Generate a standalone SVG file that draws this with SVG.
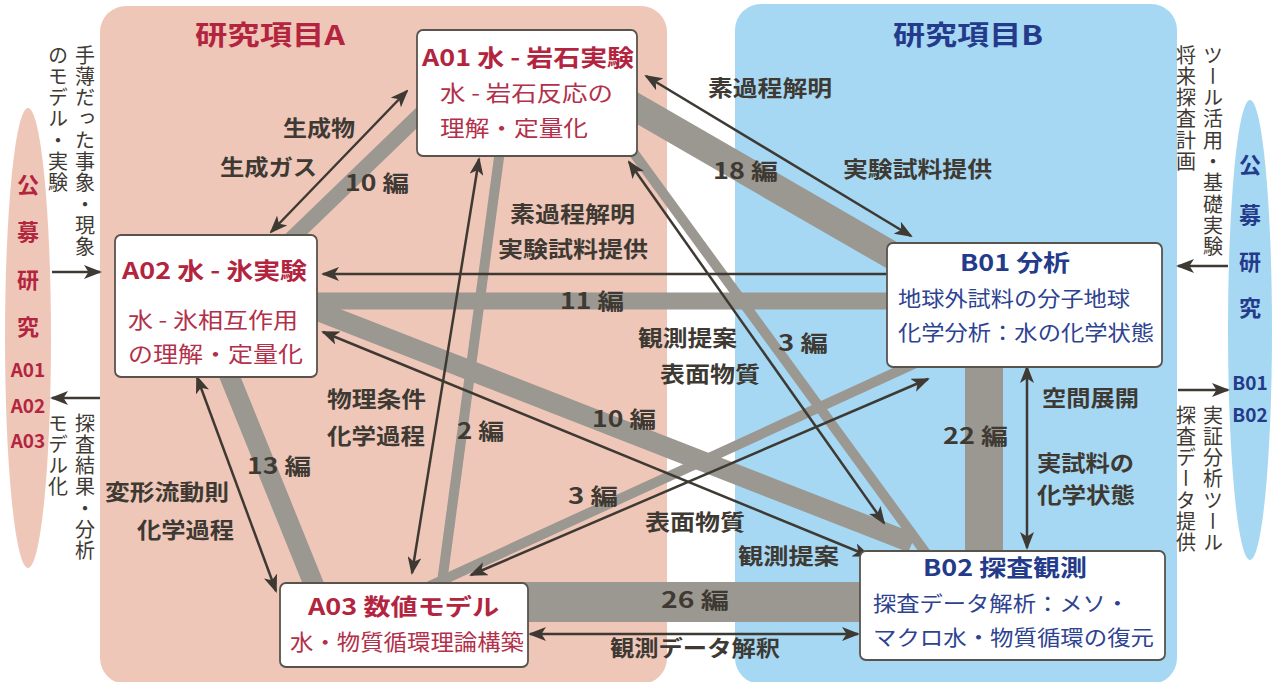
<svg xmlns="http://www.w3.org/2000/svg" width="1279" height="682" viewBox="0 0 1279 682">
<defs>
<style>
text{font-family:'Noto Sans CJK JP','Noto Sans',sans-serif;}
.lbl{font-size:22px;font-weight:700;fill:#3e3a33;}
.band{stroke:#9b9791;fill:none;stroke-linecap:butt;}
.arr{stroke:#3e3a33;stroke-width:2.5;fill:none;marker-end:url(#ah);}
.arr2{stroke:#3e3a33;stroke-width:2.5;fill:none;marker-end:url(#ah);marker-start:url(#ah);}
.box{fill:#fff;stroke:#58534d;stroke-width:1.8;}
.ta{font-size:23px;font-weight:700;fill:#b3253f;}
.sa{font-size:22px;fill:#b3304a;}
.tb{font-size:23px;font-weight:700;fill:#243a8a;}
.sb{font-size:21px;fill:#2d4390;}
.vt{font-size:20px;fill:#3e3a33;writing-mode:vertical-rl;letter-spacing:1.3px;}
.er{font-size:22px;font-weight:700;fill:#b3253f;text-anchor:middle;}
.eb{font-size:22px;font-weight:700;fill:#243a8a;text-anchor:middle;}
.er2{font-size:19px;font-weight:700;fill:#b3253f;text-anchor:middle;}
.eb2{font-size:19px;font-weight:700;fill:#243a8a;text-anchor:middle;}
</style>
<marker id="ah" viewBox="0 0 18 14" refX="16" refY="7" markerWidth="18" markerHeight="14" markerUnits="userSpaceOnUse" orient="auto-start-reverse">
<path d="M0,0 L18,7 L0,14 L4.5,7 Z" fill="#3e3a33"/>
</marker>
</defs>
<rect width="1279" height="682" fill="#fff"/>

<g id="panels">
<rect x="100" y="6" width="567" height="678" rx="26" fill="#efc7b9"/>
<rect x="735" y="4" width="442" height="680" rx="26" fill="#a6d8f3"/>
<text x="195" y="45" font-size="27" font-weight="700" fill="#b3253f" textLength="150" lengthAdjust="spacingAndGlyphs">研究項目A</text>
<text x="893" y="45" font-size="27" font-weight="700" fill="#243a8a" textLength="150" lengthAdjust="spacingAndGlyphs">研究項目B</text>
</g>

<g id="koubo-A">
<ellipse cx="28" cy="338" rx="23" ry="230" fill="#efc7b9"/>
<text class="er" x="28" y="193">公</text>
<text class="er" x="28" y="240">募</text>
<text class="er" x="28" y="288">研</text>
<text class="er" x="28" y="335">究</text>
<text class="er2" x="28" y="377">A01</text>
<text class="er2" x="28" y="413">A02</text>
<text class="er2" x="28" y="448">A03</text>
<text class="vt" x="85" y="45">手薄だった事象・現象</text>
<text class="vt" x="58" y="45">のモデル・実験</text>
<text class="vt" x="85" y="413">探査結果・分析</text>
<text class="vt" x="58" y="413">モデル化</text>
</g>

<g id="koubo-B">
<ellipse cx="1250" cy="330" rx="22" ry="230" fill="#a6d8f3"/>
<text class="eb" x="1250" y="173">公</text>
<text class="eb" x="1250" y="223">募</text>
<text class="eb" x="1250" y="270">研</text>
<text class="eb" x="1250" y="316">究</text>
<text class="eb2" x="1250" y="390">B01</text>
<text class="eb2" x="1250" y="422">B02</text>
<text class="vt" x="1213" y="45">ツール活用・基礎実験</text>
<text class="vt" x="1186" y="45">将来探査計画</text>
<text class="vt" x="1213" y="405">実証分析ツール</text>
<text class="vt" x="1186" y="405">探査データ提供</text>
</g>

<g id="connectors">
<line class="band" x1="430" y1="105" x2="285" y2="245" stroke-width="15"/>
<line class="band" x1="630" y1="104" x2="895" y2="257" stroke-width="28"/>
<line class="band" x1="628" y1="145" x2="928" y2="556" stroke-width="10"/>
<line class="band" x1="500" y1="150" x2="441" y2="590" stroke-width="10"/>
<line class="band" x1="310" y1="301" x2="895" y2="301" stroke-width="17"/>
<line class="band" x1="310" y1="308" x2="912" y2="543" stroke-width="20"/>
<line class="band" x1="227" y1="370" x2="316" y2="590" stroke-width="20"/>
<line class="band" x1="421" y1="590" x2="918" y2="362" stroke-width="10"/>
<line class="band" x1="520" y1="602" x2="870" y2="602" stroke-width="40"/>
<line class="band" x1="984" y1="360" x2="984" y2="556" stroke-width="38"/>

<line class="arr2" x1="407" y1="91" x2="271" y2="232"/>
<line class="arr2" x1="646" y1="76" x2="911" y2="236"/>
<line class="arr2" x1="629" y1="162" x2="884" y2="523"/>
<line class="arr2" x1="479" y1="159" x2="412" y2="573"/>
<line class="arr" x1="887" y1="274" x2="323" y2="274"/>
<line class="arr2" x1="323" y1="332" x2="869" y2="556"/>
<line class="arr2" x1="197" y1="377" x2="276" y2="591"/>
<line class="arr2" x1="471" y1="575" x2="928" y2="379"/>
<line class="arr2" x1="1027" y1="367" x2="1027" y2="548"/>
<line class="arr2" x1="530" y1="634" x2="858" y2="634"/>
<line class="arr" x1="52" y1="272" x2="100" y2="272"/>
<line class="arr" x1="100" y1="398" x2="52" y2="398"/>
<line class="arr" x1="1228" y1="266" x2="1178" y2="266"/>
<line class="arr" x1="1178" y1="390" x2="1228" y2="390"/>
</g>

<g id="labels">
<text class="lbl" x="283" y="136" textLength="72" lengthAdjust="spacingAndGlyphs">生成物</text>
<text class="lbl" x="220" y="175" textLength="97" lengthAdjust="spacingAndGlyphs">生成ガス</text>
<text class="lbl" x="345" y="191" textLength="64" lengthAdjust="spacingAndGlyphs">10 編</text>
<text class="lbl" x="708" y="96" textLength="124" lengthAdjust="spacingAndGlyphs">素過程解明</text>
<text class="lbl" x="713" y="179" textLength="65" lengthAdjust="spacingAndGlyphs">18 編</text>
<text class="lbl" x="843" y="177" textLength="149" lengthAdjust="spacingAndGlyphs">実験試料提供</text>
<text class="lbl" x="510" y="222" textLength="125" lengthAdjust="spacingAndGlyphs">素過程解明</text>
<text class="lbl" x="498" y="257" textLength="150" lengthAdjust="spacingAndGlyphs">実験試料提供</text>
<text class="lbl" x="560" y="309" textLength="64" lengthAdjust="spacingAndGlyphs">11 編</text>
<text class="lbl" x="638" y="346" textLength="99" lengthAdjust="spacingAndGlyphs">観測提案</text>
<text class="lbl" x="660" y="382" textLength="100" lengthAdjust="spacingAndGlyphs">表面物質</text>
<text class="lbl" x="778" y="351" textLength="50" lengthAdjust="spacingAndGlyphs">3 編</text>
<text class="lbl" x="592" y="427" textLength="64" lengthAdjust="spacingAndGlyphs">10 編</text>
<text class="lbl" x="568" y="504" textLength="50" lengthAdjust="spacingAndGlyphs">3 編</text>
<text class="lbl" x="645" y="530" textLength="100" lengthAdjust="spacingAndGlyphs">表面物質</text>
<text class="lbl" x="738" y="564" textLength="101" lengthAdjust="spacingAndGlyphs">観測提案</text>
<text class="lbl" x="327" y="407" textLength="99" lengthAdjust="spacingAndGlyphs">物理条件</text>
<text class="lbl" x="327" y="444" textLength="98" lengthAdjust="spacingAndGlyphs">化学過程</text>
<text class="lbl" x="457" y="439" textLength="47" lengthAdjust="spacingAndGlyphs">2 編</text>
<text class="lbl" x="247" y="474" textLength="64" lengthAdjust="spacingAndGlyphs">13 編</text>
<text class="lbl" x="105" y="500" textLength="124" lengthAdjust="spacingAndGlyphs">変形流動則</text>
<text class="lbl" x="137" y="538" textLength="97" lengthAdjust="spacingAndGlyphs">化学過程</text>
<text class="lbl" x="1042" y="406" textLength="97" lengthAdjust="spacingAndGlyphs">空間展開</text>
<text class="lbl" x="943" y="444" textLength="65" lengthAdjust="spacingAndGlyphs">22 編</text>
<text class="lbl" x="1037" y="471" textLength="97" lengthAdjust="spacingAndGlyphs">実試料の</text>
<text class="lbl" x="1037" y="503" textLength="98" lengthAdjust="spacingAndGlyphs">化学状態</text>
<text class="lbl" x="661" y="608" textLength="68" lengthAdjust="spacingAndGlyphs">26 編</text>
<text class="lbl" x="610" y="656" textLength="170" lengthAdjust="spacingAndGlyphs">観測データ解釈</text>
</g>

<g id="A01">
<rect class="box" x="417" y="30" width="220" height="126" rx="6"/>
<text class="ta" x="422" y="66" textLength="212" lengthAdjust="spacingAndGlyphs">A01 水 - 岩石実験</text>
<text class="sa" x="440" y="101" textLength="173" lengthAdjust="spacingAndGlyphs">水 - 岩石反応の</text>
<text class="sa" x="440" y="136" textLength="148" lengthAdjust="spacingAndGlyphs">理解・定量化</text>
</g>

<g id="A02">
<rect class="box" x="115" y="235" width="202" height="142" rx="6"/>
<text class="ta" x="122" y="279" textLength="185" lengthAdjust="spacingAndGlyphs">A02 水 - 氷実験</text>
<text class="sa" x="128" y="328" textLength="170" lengthAdjust="spacingAndGlyphs">水 - 氷相互作用</text>
<text class="sa" x="128" y="362" textLength="175" lengthAdjust="spacingAndGlyphs">の理解・定量化</text>
</g>

<g id="A03">
<rect class="box" x="280" y="583" width="248" height="84" rx="6"/>
<text class="ta" x="308" y="615" textLength="191" lengthAdjust="spacingAndGlyphs">A03 数値モデル</text>
<text class="sa" x="290" y="650" textLength="234" lengthAdjust="spacingAndGlyphs">水・物質循環理論構築</text>
</g>

<g id="B01">
<rect class="box" x="887" y="243" width="275" height="124" rx="6"/>
<text class="tb" x="960" y="271" textLength="110" lengthAdjust="spacingAndGlyphs">B01 分析</text>
<text class="sb" x="898" y="306" textLength="232" lengthAdjust="spacingAndGlyphs">地球外試料の分子地球</text>
<text class="sb" x="898" y="340" textLength="256" lengthAdjust="spacingAndGlyphs">化学分析：水の化学状態</text>
</g>

<g id="B02">
<rect class="box" x="860" y="551" width="305" height="109" rx="6"/>
<text class="tb" x="923" y="576" textLength="164" lengthAdjust="spacingAndGlyphs">B02 探査観測</text>
<text class="sb" x="873" y="611" textLength="256" lengthAdjust="spacingAndGlyphs">探査データ解析：メソ・</text>
<text class="sb" x="873" y="645" textLength="281" lengthAdjust="spacingAndGlyphs">マクロ水・物質循環の復元</text>
</g>
</svg>
